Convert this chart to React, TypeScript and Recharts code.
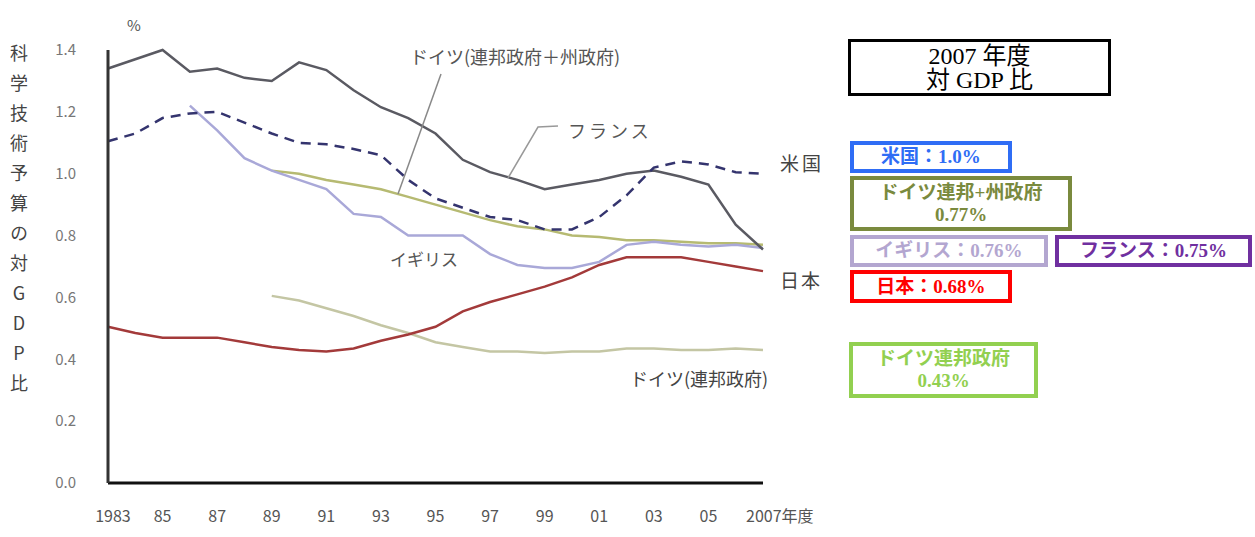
import { LineChart, Line, XAxis, YAxis } from "recharts";

const years = [
  1983, 1984, 1985, 1986, 1987, 1988, 1989, 1990, 1991, 1992, 1993, 1994, 1995,
  1996, 1997, 1998, 1999, 2000, 2001, 2002, 2003, 2004, 2005, 2006, 2007,
];

const france = [
  1.34, 1.37, 1.4, 1.33, 1.34, 1.31, 1.3, 1.36, 1.335, 1.27, 1.215, 1.18, 1.13,
  1.045, 1.005, 0.98, 0.95, 0.965, 0.98, 1.0, 1.01, 0.99, 0.965, 0.835, 0.755,
];

const usa = [
  1.105, 1.13, 1.18, 1.195, 1.2, 1.165, 1.13, 1.1, 1.095, 1.08, 1.06, 0.98,
  0.92, 0.89, 0.86, 0.85, 0.82, 0.82, 0.86, 0.93, 1.02, 1.04, 1.03, 1.005, 1.0,
];

const uk = [
  null, null, null, 1.22, 1.14, 1.05, 1.01, 0.98, 0.95, 0.87, 0.86, 0.8, 0.8,
  0.8, 0.74, 0.705, 0.695, 0.695, 0.715, 0.77, 0.78, 0.77, 0.765, 0.77, 0.76,
];

const germanyFedState = [
  null, null, null, null, null, null, 1.01, 1.0, 0.98, 0.965, 0.95, 0.925, 0.9,
  0.875, 0.85, 0.83, 0.82, 0.8, 0.795, 0.785, 0.785, 0.78, 0.775, 0.775, 0.77,
];

const germanyFed = [
  null, null, null, null, null, null, 0.605, 0.59, 0.565, 0.54, 0.51, 0.485,
  0.455, 0.44, 0.425, 0.425, 0.42, 0.425, 0.425, 0.435, 0.435, 0.43, 0.43,
  0.435, 0.43,
];

const japan = [
  0.505, 0.485, 0.47, 0.47, 0.47, 0.455, 0.44, 0.43, 0.425, 0.435, 0.46, 0.48,
  0.505, 0.555, 0.585, 0.61, 0.635, 0.665, 0.705, 0.73, 0.73, 0.73, 0.715, 0.7,
  0.685,
];

const xTicks = [1983, 1985, 1987, 1989, 1991, 1993, 1995, 1997, 1999, 2001, 2003, 2005, 2007];
const yTicks = [0, 0.2, 0.4, 0.6, 0.8, 1.0, 1.2, 1.4];

const data = years.map((year, i) => ({
  year,
  france: france[i],
  usa: usa[i],
  uk: uk[i],
  germanyFedState: germanyFedState[i],
  germanyFed: germanyFed[i],
  japan: japan[i],
}));

const serif = "'Liberation Serif', 'DejaVu Serif', 'Noto Sans CJK JP', serif";
const sans = "'Noto Sans CJK JP', sans-serif";

const XTick = (props: any) => {
  const { x, y, payload } = props;
  const v: number = payload.value;
  let label = String(v).slice(2);
  if (v === 1983) label = "1983";
  if (v === 2007) {
    return (
      <text x={x - 17} y={y + 31} fill="#555" fontSize={16} fontFamily={sans} textAnchor="start">
        2007年度
      </text>
    );
  }
  return (
    <text x={x + (v === 1983 ? 5 : 0)} y={y + 31} fill="#555" fontSize={16} fontFamily={sans} textAnchor="middle">
      {label}
    </text>
  );
};

const boxes = [
  { text: ["米国：1.0%"], color: "#2f6df5", left: 850, top: 141, width: 162, height: 32 },
  { text: ["ドイツ連邦+州政府", "0.77%"], color: "#7a8a3e", left: 850, top: 176, width: 222, height: 55 },
  { text: ["イギリス：0.76%"], color: "#b3a6d0", left: 850, top: 235, width: 198, height: 32 },
  { text: ["フランス：0.75%"], color: "#7030a0", left: 1055, top: 235, width: 197, height: 32 },
  { text: ["日本：0.68%"], color: "#ff0000", left: 850, top: 270, width: 162, height: 33 },
  { text: ["ドイツ連邦政府", "0.43%"], color: "#92d050", left: 849, top: 342, width: 189, height: 56 },
];

export default function App() {
  return (
    <div
      style={{
        position: "absolute",
        left: 0,
        top: 0,
        width: 1255,
        height: 537,
        background: "#fff",
        overflow: "hidden",
      }}
    >
      <div style={{ position: "absolute", left: 0, top: 0 }}>
        <LineChart
          width={840}
          height={537}
          data={data}
          margin={{ top: 50, right: 77, bottom: 24, left: 48 }}
        >
          <XAxis
            type="number"
            dataKey="year"
            domain={[1983, 2007]}
            ticks={xTicks}
            interval={0}
            axisLine={{ stroke: "#111", strokeWidth: 3 }}
            tickLine={false}
            tick={<XTick />}
            height={30}
          />
          <YAxis
            domain={[0, 1.4]}
            ticks={yTicks}
            interval={0}
            width={60}
            axisLine={{ stroke: "#333", strokeWidth: 3 }}
            tickLine={false}
            tickMargin={26}
            tickFormatter={(v: number) => v.toFixed(1)}
            tick={{ fill: "#777", fontSize: 15, fontFamily: sans }}
          />
          <Line dataKey="germanyFed" stroke="#c4c6a4" strokeWidth={2.5} dot={false} isAnimationActive={false} />
          <Line dataKey="germanyFedState" stroke="#b6ba72" strokeWidth={2.5} dot={false} isAnimationActive={false} />
          <Line dataKey="uk" stroke="#a9a8d8" strokeWidth={2.5} dot={false} isAnimationActive={false} />
          <Line dataKey="japan" stroke="#a33a3a" strokeWidth={2.5} dot={false} isAnimationActive={false} />
          <Line dataKey="france" stroke="#5a5a62" strokeWidth={2.5} dot={false} isAnimationActive={false} />
          <Line
            dataKey="usa"
            stroke="#34346e"
            strokeWidth={2.5}
            strokeDasharray="10 7"
            dot={false}
            isAnimationActive={false}
          />
        </LineChart>
      </div>

      {/* annotations */}
      <svg
        width={840}
        height={537}
        style={{ position: "absolute", left: 0, top: 0, pointerEvents: "none" }}
        fontFamily={sans}
      >
        <text x={127} y={31} fontSize={15} fill="#555">%</text>
        <polyline points="441,74 398,194" fill="none" stroke="#888" strokeWidth={1.5} />
        <polyline points="558,126 538,127 508,178" fill="none" stroke="#999" strokeWidth={1.5} />
        <text x={410} y={64} fontSize={18} fill="#555">ドイツ(連邦政府＋州政府)</text>
        <text x={568} y={138} fontSize={18} fill="#555" letterSpacing={3}>フランス</text>
        <text x={780} y={171} fontSize={19} fill="#444" letterSpacing={3}>米国</text>
        <text x={390} y={266} fontSize={17} fill="#555">イギリス</text>
        <text x={780} y={288} fontSize={19} fill="#444" letterSpacing={2}>日本</text>
        <text x={630} y={386} fontSize={18} fill="#444">ドイツ(連邦政府)</text>
      </svg>

      {/* vertical axis title */}
      <div
        style={{
          position: "absolute",
          left: 8,
          top: 44,
          writingMode: "vertical-rl",
          textOrientation: "upright",
          fontFamily: sans,
          fontSize: 18,
          letterSpacing: 12,
          color: "#444",
          lineHeight: "22px",
        }}
      >
        科学技術予算の対GDP比
      </div>

      {/* right-side summary boxes */}
      <div
        style={{
          position: "absolute",
          left: 848,
          top: 39,
          width: 263,
          height: 57,
          boxSizing: "border-box",
          border: "3px solid #000",
          display: "flex",
          flexDirection: "column",
          alignItems: "center",
          justifyContent: "center",
          fontFamily: serif,
          fontSize: 24,
          lineHeight: "24px",
          color: "#000",
        }}
      >
        <div>2007 年度</div>
        <div>対 GDP 比</div>
      </div>
      {boxes.map((b) => (
        <div
          key={b.text.join("")}
          style={{
            position: "absolute",
            left: b.left,
            top: b.top,
            width: b.width,
            height: b.height,
            boxSizing: "border-box",
            border: `4px solid ${b.color}`,
            display: "flex",
            flexDirection: "column",
            alignItems: "center",
            justifyContent: "center",
            fontFamily: serif,
            fontWeight: "bold",
            fontSize: 19,
            lineHeight: "22px",
            color: b.color,
            whiteSpace: "nowrap",
          }}
        >
          {b.text.map((t) => (
            <div key={t}>{t}</div>
          ))}
        </div>
      ))}
    </div>
  );
}
